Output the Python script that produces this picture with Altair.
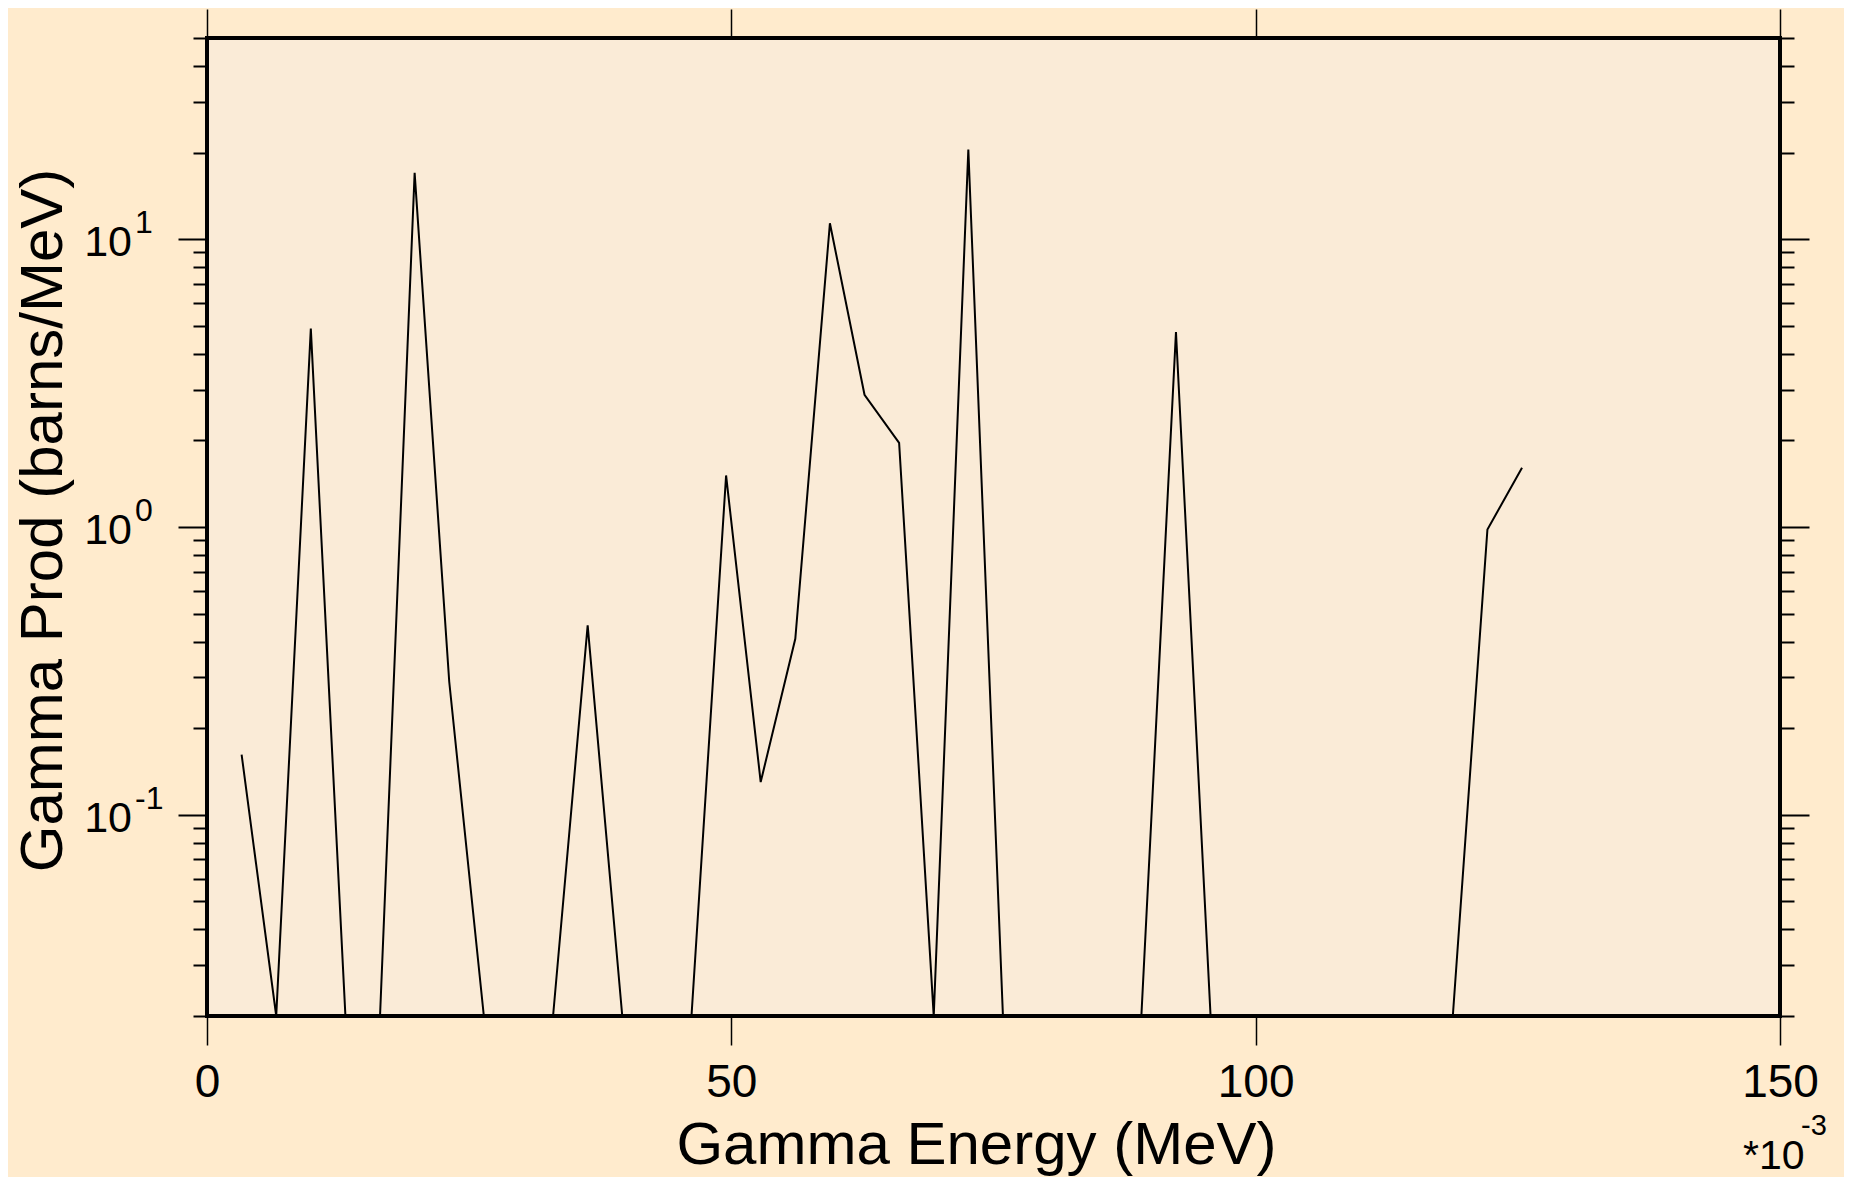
import altair as alt
import pandas as pd

# ---- data ----
energy_kev = [3.3, 6.6, 9.9, 13.2, 16.5, 19.8, 23.1, 26.4, 29.7, 33.0, 36.3, 39.6,
              42.9, 46.2, 49.5, 52.8, 56.1, 59.4, 62.7, 66.0, 69.3, 72.6, 75.9,
              79.2, 82.5, 85.8, 89.1, 92.4, 95.7, 99.0, 102.3, 105.6, 108.9,
              112.2, 115.5, 118.8, 122.1, 125.4]
gamma_prod = [0.162, 0.02, 4.89, 0.02, 0.02, 17.0, 0.29, 0.02, 0.02, 0.02, 0.455, 0.02,
              0.02, 0.02, 1.51, 0.130, 0.409, 11.36, 2.88, 1.96, 0.02, 20.5, 0.02,
              0.02, 0.02, 0.02, 0.02, 4.76, 0.02, 0.02, 0.02, 0.02, 0.02,
              0.02, 0.02, 0.02, 0.98, 1.607]

x_ticks = [0, 50, 100, 150]
y_major = [0.1, 1, 10]
y_exps = ["-1", "0", "1"]
y_all_ticks = [0.02, 0.03, 0.04, 0.05, 0.06, 0.07, 0.08, 0.09,
               0.1, 0.2, 0.3, 0.4, 0.5, 0.6, 0.7, 0.8, 0.9,
               1, 2, 3, 4, 5, 6, 7, 8, 9,
               10, 20, 30, 40, 50]
x_domain = [0, 150]
y_domain = [0.02, 50]

FONT = "Liberation Sans"
W, H = 1573, 978

df = pd.DataFrame({"x": energy_kev, "y": gamma_prod})
ylab = pd.DataFrame({"val": y_major, "base": ["10"] * len(y_major), "exp": y_exps})
mult = pd.DataFrame({"t": ["*10"], "e": ["-3"]})

xs = alt.Scale(domain=x_domain, nice=False, zero=False)
ys = alt.Scale(type="log", domain=y_domain, nice=False)

major_test = "datum.value == 0.1 || datum.value == 1 || datum.value == 10"
ytick_size = {"condition": {"test": major_test, "value": 29}, "value": 14}

x_bottom = alt.Axis(values=x_ticks, tickSize=29, tickWidth=1.5, tickColor="black",
                    domain=False, grid=False, labelFont=FONT, labelFontSize=46,
                    labelColor="black", labelBaseline="alphabetic", labelPadding=51,
                    labelFlush=False, labelOverlap=False,
                    title="Gamma Energy (MeV)", titleFont=FONT, titleFontSize=60,
                    titleFontWeight="normal", titleColor="black",
                    titleX=769, titleY=147, titleBaseline="alphabetic", titleAlign="center",
                    orient="bottom")
x_top = alt.Axis(values=x_ticks, tickSize=29, tickWidth=1.5, tickColor="black",
                 domain=False, grid=False, labels=False, title=None, orient="top")
y_left = alt.Axis(values=y_all_ticks, tickSize=ytick_size, tickWidth=2, tickColor="black",
                  domain=False, grid=False, labels=False,
                  title="Gamma Prod (barns/MeV)", titleFont=FONT, titleFontSize=60,
                  titleFontWeight="normal", titleColor="black",
                  titleX=-164, titleY=482, titleAngle=-90, titleAlign="center",
                  titleBaseline="middle", orient="left")
y_right = alt.Axis(values=y_all_ticks, tickSize=ytick_size, tickWidth=2, tickColor="black",
                   domain=False, grid=False, labels=False, title=None, orient="right")

line = alt.Chart(df).mark_line(color="black", strokeWidth=2, clip=True).encode(
    x=alt.X("x:Q", scale=xs, axis=x_bottom),
    y=alt.Y("y:Q", scale=ys, axis=y_left),
)
frame_axes = alt.Chart(df).mark_line(opacity=0).encode(
    x=alt.X("x:Q", scale=xs, axis=x_top),
    y=alt.Y("y:Q", scale=ys, axis=y_right),
)
ybase = alt.Chart(ylab).mark_text(align="right", baseline="alphabetic", font=FONT,
                                  fontSize=43, color="black", dy=17).encode(
    y=alt.Y("val:Q", scale=ys, axis=None),
    x=alt.value(-75),
    text="base:N",
)
yexp = alt.Chart(ylab).mark_text(align="left", baseline="alphabetic", font=FONT,
                                 fontSize=32, color="black", dy=-6).encode(
    y=alt.Y("val:Q", scale=ys, axis=None),
    x=alt.value(-72),
    text="exp:N",
)
mult_base = alt.Chart(mult).mark_text(align="left", baseline="alphabetic", font=FONT,
                                      fontSize=41, color="black").encode(
    x=alt.value(1536), y=alt.value(1131), text="t:N")
mult_exp = alt.Chart(mult).mark_text(align="left", baseline="alphabetic", font=FONT,
                                     fontSize=29, color="black").encode(
    x=alt.value(1594), y=alt.value(1097), text="e:N")

chart = alt.layer(line, frame_axes, ybase, yexp, mult_base, mult_exp).resolve_axis(
    x="independent", y="independent"
).properties(
    width=W, height=H,
    autosize=alt.AutoSizeParams(type="none"),
    padding={"left": 199, "top": 30, "right": 64, "bottom": 161},
    background="#FFEBCD",
).configure_view(
    stroke="black", strokeWidth=4, fill="#FAEBD7"
)

chart.save("out.html", embed_options={"renderer": "svg", "actions": False})
